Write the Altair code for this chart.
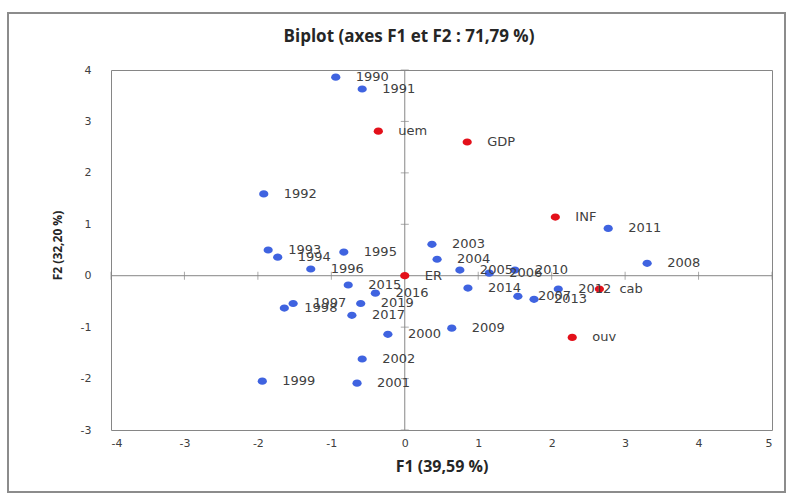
import altair as alt
import pandas as pd

# Observation scores (years) on the first two factors
years = ["1990", "1991", "1992", "1993", "1994", "1995", "1996", "1997", "1998",
         "1999", "2000", "2001", "2002", "2003", "2004", "2005", "2006", "2007",
         "2008", "2009", "2010", "2011", "2012", "2013", "2014", "2015", "2016",
         "2017", "2019"]
years_f1 = [-0.94, -0.58, -1.92, -1.86, -1.73, -0.83, -1.28, -1.52, -1.64,
            -1.94, -0.23, -0.65, -0.58, 0.37, 0.44, 0.75, 1.15, 1.54,
            3.30, 0.64, 1.50, 2.77, 2.09, 1.76, 0.86, -0.77, -0.40,
            -0.72, -0.60]
years_f2 = [3.86, 3.63, 1.59, 0.50, 0.36, 0.46, 0.13, -0.54, -0.63,
            -2.05, -1.14, -2.09, -1.62, 0.61, 0.32, 0.11, 0.05, -0.40,
            0.24, -1.02, 0.11, 0.92, -0.26, -0.46, -0.24, -0.18, -0.34,
            -0.77, -0.54]

# Variable coordinates
variables = ["uem", "GDP", "INF", "ER", "cab", "ouv"]
vars_f1 = [-0.36, 0.85, 2.05, 0.00, 2.65, 2.28]
vars_f2 = [2.81, 2.60, 1.14, 0.00, -0.26, -1.20]

x_ticks = [-4, -3, -2, -1, 0, 1, 2, 3, 4, 5]
y_ticks = [-3, -2, -1, 0, 1, 2, 3, 4]

title_text = "Biplot (axes F1 et F2 : 71,79 %)"

W, H = 661, 360
BLUE = "#3f63e0"
RED = "#e3101a"
GREY = "#868686"
TXT = "#404040"

obs = pd.DataFrame({"label": years, "F1": years_f1, "F2": years_f2, "kind": "obs"})
var = pd.DataFrame({"label": variables, "F1": vars_f1, "F2": vars_f2, "kind": "var"})
pts = pd.concat([obs, var], ignore_index=True)

xscale = alt.Scale(domain=[-4, 5], nice=False, zero=False)
yscale = alt.Scale(domain=[-3, 4], nice=False, zero=False)

x_enc = alt.X("F1:Q", scale=xscale,
              axis=alt.Axis(title="F1 (39,59 %)", values=x_ticks,
                            labelExpr="toString(datum.value)",
                            grid=False, ticks=False, domain=False,
                            labelPadding=7, labelFontSize=11, labelColor=TXT,
                            labelFont="DejaVu Sans",
                            titleFont="Open Sans", titleFontSize=16,
                            titleFontWeight="bold", titleColor="#262626",
                            titleY=36, titleBaseline="middle", titleX=W / 2))
y_enc = alt.Y("F2:Q", scale=yscale,
              axis=alt.Axis(title="F2 (32,20 %)", values=y_ticks,
                            labelExpr="toString(datum.value)",
                            grid=False, ticks=False, domain=False,
                            labelPadding=20, labelFontSize=11, labelColor=TXT,
                            labelFont="DejaVu Sans",
                            titleFont="Open Sans", titleFontSize=12,
                            titleFontWeight="bold", titleColor="#262626",
                            titleAngle=-90, titleX=-54, titleY=175,
                            titleAlign="center", titleBaseline="middle"))

base = alt.Chart(pts)
one = pd.DataFrame({"a": [0]})

# Outer chart frame
frame = alt.Chart(one).mark_rect(
    filled=False, stroke="#8c8c8c", strokeWidth=2
).encode(x=alt.value(-103), x2=alt.value(674), y=alt.value(-57), y2=alt.value(422))

# Chart title
title = alt.Chart(pd.DataFrame({"t": [title_text]})).mark_text(
    font="Open Sans", fontSize=17, fontWeight="bold", color="#262626",
    align="center", baseline="middle"
).encode(x=alt.value(298), y=alt.value(-33), text="t:N")

# Axis lines crossing at the origin
ax_v = alt.Chart(pd.DataFrame({"F1": [0]})).mark_rule(color=GREY, strokeWidth=1).encode(
    x=alt.X("F1:Q", scale=xscale))
ax_h = alt.Chart(pd.DataFrame({"F2": [0]})).mark_rule(color=GREY, strokeWidth=1).encode(
    y=alt.Y("F2:Q", scale=yscale))

tick_x = alt.Chart(pd.DataFrame({"F1": x_ticks, "F2": [0] * len(x_ticks)})).mark_tick(
    orient="vertical", size=8, color=GREY, thickness=1).encode(
    x=alt.X("F1:Q", scale=xscale), y=alt.Y("F2:Q", scale=yscale))
tick_y = alt.Chart(pd.DataFrame({"F1": [0] * len(y_ticks), "F2": y_ticks})).mark_tick(
    orient="horizontal", size=8, color=GREY, thickness=1).encode(
    x=alt.X("F1:Q", scale=xscale), y=alt.Y("F2:Q", scale=yscale))

ellipse = "M-1,0A1,0.78,0,1,0,1,0A1,0.78,0,1,0,-1,0Z"
dots = base.mark_point(filled=True, opacity=1, shape=ellipse, size=85).encode(
    x=x_enc, y=y_enc,
    color=alt.Color("kind:N", scale=alt.Scale(domain=["obs", "var"], range=[BLUE, RED]),
                    legend=None))

labels = base.mark_text(align="left", baseline="middle", dx=20, font="DejaVu Sans",
                        fontSize=13, color=TXT).encode(
    x=alt.X("F1:Q", scale=xscale), y=alt.Y("F2:Q", scale=yscale), text="label:N")

chart = alt.layer(frame, title, ax_v, ax_h, tick_x, tick_y, dots, labels).properties(
    width=W, height=H,
    autosize=alt.AutoSizeParams(type="none"),
    padding={"left": 111, "top": 70, "right": 22, "bottom": 65},
    background="white",
).configure_view(stroke=GREY, strokeWidth=1)

chart.save("out.html", embed_options={"renderer": "svg", "actions": False})
